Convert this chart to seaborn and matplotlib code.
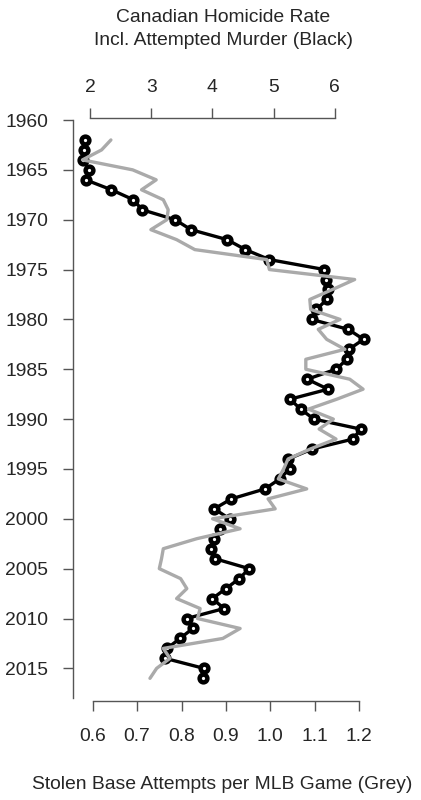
import matplotlib
matplotlib.use("Agg")
import matplotlib.pyplot as plt
import seaborn as sns
import pandas as pd
import numpy as np

# Canadian homicide rate incl. attempted murder (black, top axis)
hom_years = list(range(1962, 2017))
hom_rate = [1.92, 1.91, 1.89, 1.99, 1.93, 2.35, 2.71, 2.85, 3.39, 3.65,
            4.24, 4.54, 4.93, 5.83, 5.85, 5.89, 5.87, 5.70, 5.62, 6.22,
            6.47, 6.23, 6.20, 6.02, 5.55, 5.89, 5.27, 5.44, 5.66, 6.42,
            6.30, 5.63, 5.24, 5.26, 5.10, 4.86, 4.31, 4.03, 4.28, 4.12,
            4.03, 3.97, 4.04, 4.60, 4.44, 4.22, 4.00, 4.19, 3.58, 3.68,
            3.47, 3.26, 3.23, 3.86, 3.85]

# stolen base attempts per MLB game (grey, bottom axis)
sb_years = list(range(1962, 2017))
sb_attempts = [0.641, 0.620, 0.577, 0.690, 0.743, 0.710, 0.759, 0.770, 0.767, 0.731,
               0.789, 0.830, 0.992, 0.998, 1.190, 1.140, 1.089, 1.091, 1.157, 1.108,
               1.127, 1.168, 1.080, 1.080, 1.179, 1.209, 1.150, 1.086, 1.142, 1.110,
               1.148, 1.090, 1.040, 1.030, 1.018, 1.082, 0.995, 1.011, 0.870, 0.932,
               0.834, 0.759, 0.755, 0.750, 0.798, 0.812, 0.789, 0.842, 0.836, 0.932,
               0.893, 0.759, 0.774, 0.744, 0.729]

year_ticks = list(range(1960, 2020, 5))
hom_ticks = [2, 3, 4, 5, 6]
sb_ticks = [0.6, 0.7, 0.8, 0.9, 1.0, 1.1, 1.2]
sb_labels = ["0.6", "0.7", "0.8", "0.9", "1.0", "1.1", "1.2"]

hom = pd.DataFrame({"year": hom_years, "rate": hom_rate})
sb = pd.DataFrame({"year": sb_years, "attempts": sb_attempts})

sns.set_style("ticks")
plt.rcParams['font.family'] = ['Liberation Sans', 'DejaVu Sans']
fs = 13.9
axis_col = "#555555"

W, H = 421, 800
fig = plt.figure(figsize=(W / 100, H / 100), dpi=100)
left, right, top, bottom = 72.7, 400, 118, 701
ax = fig.add_axes([left / W, 1 - bottom / H, (right - left) / W, (bottom - top) / H])

# black series with thick open circles
sns.lineplot(data=hom, x="rate", y="year", orient="y", sort=False, estimator=None,
             color="black", linewidth=2.4, marker="o", markersize=5.6,
             markerfacecolor="white", markeredgecolor="black", markeredgewidth=3.2,
             ax=ax)
ax.set_xlim(2 - (90 - left) / 61.2, 2 + (right - 90) / 61.2)
ax.set_ylim(1960 + (bottom - 120) / 9.97, 1960 - (120 - top) / 9.97)

ax2 = ax.twiny()
sns.lineplot(data=sb, x="attempts", y="year", orient="y", sort=False, estimator=None,
             color="#aaaaaa", linewidth=2.4, ax=ax2)
ax2.set_xlim(0.6 - (92.7 - left) / 444, 0.6 + (right - 92.7) / 444)
ax2.set_ylim(ax.get_ylim())

# axis styling
ax.xaxis.set_ticks_position("top")
ax.xaxis.set_label_position("top")
ax.set_xticks(hom_ticks)
ax.set_yticks(year_ticks)
ax.set_xlabel("")
ax.set_ylabel("")
for s in ["right", "bottom"]:
    ax.spines[s].set_visible(False)
ax.spines["left"].set_bounds(1960, 2018)
ax.spines["top"].set_bounds(2, 6)
ax.tick_params(axis="x", direction="out", length=7.5, width=1, color=axis_col,
               labelsize=fs, pad=8.5)
ax.tick_params(axis="y", direction="out", length=7.5, width=1, color=axis_col,
               labelsize=fs, pad=10)

ax2.xaxis.set_ticks_position("bottom")
ax2.xaxis.set_label_position("bottom")
ax2.set_xticks(sb_ticks)
ax2.set_xticklabels(sb_labels)
ax2.set_xlabel("")
ax2.set_ylabel("")
for s in ["right", "top", "left"]:
    ax2.spines[s].set_visible(False)
ax2.spines["bottom"].set_bounds(0.6, 1.2)
ax2.tick_params(axis="x", direction="out", length=7.5, width=1, color=axis_col,
                labelsize=fs, pad=12)
ax2.tick_params(axis="y", left=False, right=False, labelleft=False, labelright=False)

for a, sp in [(ax, "left"), (ax, "top"), (ax2, "bottom")]:
    a.spines[sp].set_color(axis_col)
    a.spines[sp].set_linewidth(1)

fig.text(223.5 / W, 1 - 21.7 / H, "Canadian Homicide Rate", ha="center", va="baseline", fontsize=fs)
fig.text(223.5 / W, 1 - 45.3 / H, "Incl. Attempted Murder (Black)", ha="center", va="baseline", fontsize=fs)
fig.text(222 / W, 1 - 789 / H, "Stolen Base Attempts per MLB Game (Grey)", ha="center", va="baseline", fontsize=fs)

fig.savefig("out.png", dpi=100)
